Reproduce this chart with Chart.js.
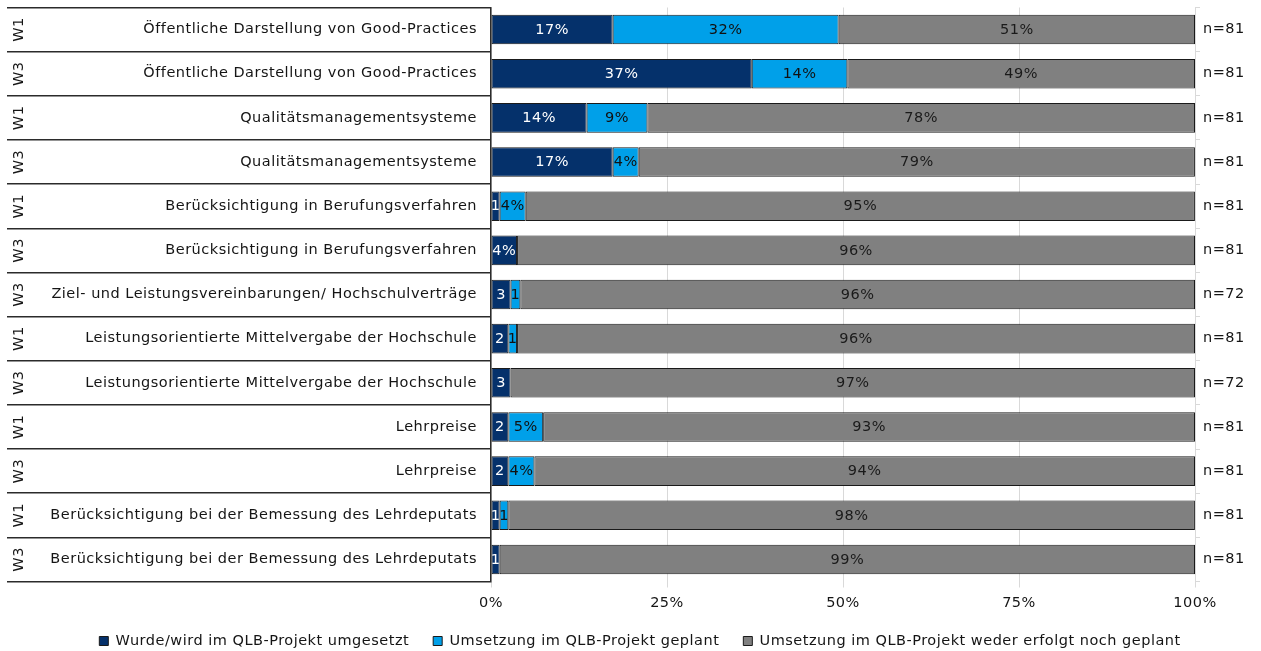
<!DOCTYPE html>
<html>
<head>
<meta charset="utf-8">
<script src="https://cdn.jsdelivr.net/npm/chart.js@4/dist/chart.umd.min.js"></script>
<style>
  html, body { margin: 0; padding: 0; background: #fff; }
  #wrap { position: relative; width: 1261px; height: 651px; }
</style>
</head>
<body>
<div id="wrap"><canvas id="c"></canvas></div>
<script>
// ---- data ----
const waves = ["W1", "W3", "W1", "W3", "W1", "W3", "W3", "W1", "W3", "W1", "W3", "W1", "W3"];
const categories = [
  "Öffentliche Darstellung von Good-Practices",
  "Öffentliche Darstellung von Good-Practices",
  "Qualitätsmanagementsysteme",
  "Qualitätsmanagementsysteme",
  "Berücksichtigung in Berufungsverfahren",
  "Berücksichtigung in Berufungsverfahren",
  "Ziel- und Leistungsvereinbarungen/ Hochschulverträge",
  "Leistungsorientierte Mittelvergabe der Hochschule",
  "Leistungsorientierte Mittelvergabe der Hochschule",
  "Lehrpreise",
  "Lehrpreise",
  "Berücksichtigung bei der Bemessung des Lehrdeputats",
  "Berücksichtigung bei der Bemessung des Lehrdeputats"
];
const nLabels = ["n=81", "n=81", "n=81", "n=81", "n=81", "n=81", "n=72", "n=81", "n=72", "n=81", "n=81", "n=81", "n=81"];
const seriesNames = [
  "Wurde/wird im QLB-Projekt umgesetzt",
  "Umsetzung im QLB-Projekt geplant",
  "Umsetzung im QLB-Projekt weder erfolgt noch geplant"
];
const umgesetzt = [17.28, 37.04, 13.58, 17.28, 1.23, 3.70, 2.78, 2.47, 2.78, 2.47, 2.47, 1.23, 1.23];
const geplant   = [32.10, 13.58, 8.64, 3.70, 3.70, 0, 1.39, 1.23, 0, 4.94, 3.70, 1.23, 0];
const weder     = [50.62, 49.38, 77.78, 79.01, 95.06, 96.30, 95.83, 96.30, 97.22, 92.59, 93.83, 97.53, 98.77];
const xTicks = [0, 25, 50, 75, 100];

// ---- style ----
const FONT = "DejaVu Sans";
const FS = 14.5;
const TXT = "#151515";
const colors = ["#05316B", "#00A0E9", "#808080"];
const labelColors = ["#ffffff", "#111111", "#1a1a1a"];
const rowLabels = categories.map((c, i) => waves[i] + " " + c);

const spacingPlugin = {
  id: "spacing",
  beforeUpdate(chart) { chart.ctx.letterSpacing = "0.5px"; },
  beforeDraw(chart) { chart.ctx.letterSpacing = "0.5px"; }
};

const leftPanel = {
  id: "leftPanel",
  afterDraw(chart) {
    const ctx = chart.ctx;
    const ys = chart.scales.y;
    ctx.save();
    ctx.letterSpacing = "0.5px";
    ctx.font = FS + "px '" + FONT + "'";
    ctx.fillStyle = TXT;
    ctx.textBaseline = "middle";
    for (let i = 0; i < categories.length; i++) {
      const y = ys.getPixelForTick(i);
      ctx.textAlign = "right";
      ctx.fillText(categories[i], 477, y);
      ctx.save();
      ctx.translate(19, y);
      ctx.rotate(-Math.PI / 2);
      ctx.textAlign = "center";
      ctx.fillText(waves[i], 0, 0);
      ctx.restore();
    }
    ctx.restore();
  }
};

const dataLabels = {
  id: "dataLabels",
  afterDatasetsDraw(chart) {
    const ctx = chart.ctx;
    ctx.save();
    ctx.letterSpacing = "0.5px";
    ctx.font = FS + "px '" + FONT + "'";
    ctx.textAlign = "center";
    ctx.textBaseline = "middle";
    chart.data.datasets.forEach((ds, di) => {
      const meta = chart.getDatasetMeta(di);
      meta.data.forEach((el, i) => {
        const v = ds.data[i];
        if (!v) return;
        const w = Math.abs(el.x - el.base);
        const r = Math.round(v);
        let t = r + "%";
        if (ctx.measureText(t).width > w + 1) t = String(r);
        ctx.fillStyle = labelColors[di];
        ctx.fillText(t, (el.x + el.base) / 2, el.y + 0.5);
      });
    });
    ctx.restore();
  }
};

const ds = (label, data, i) => ({
  label, data,
  backgroundColor: colors[i],
  borderColor: "#1a1a1a",
  borderWidth: 1,
  borderSkipped: false,
  categoryPercentage: 1,
  barPercentage: 0.67
});

new Chart(document.getElementById("c"), {
  type: "bar",
  data: {
    labels: rowLabels,
    datasets: [
      ds(seriesNames[0], umgesetzt, 0),
      ds(seriesNames[1], geplant, 1),
      ds(seriesNames[2], weder, 2)
    ]
  },
  options: {
    indexAxis: "y",
    responsive: true,
    maintainAspectRatio: false,
    animation: false,
    layout: { padding: { left: 19, right: 0, top: 7.5, bottom: -7.25 } },
    plugins: {
      legend: {
        position: "bottom",
        labels: {
          boxWidth: 9, boxHeight: 9, padding: 24,
          color: TXT,
          font: { family: FONT, size: FS }
        }
      },
      tooltip: { enabled: false }
    },
    scales: {
      x: {
        stacked: true,
        min: 0, max: 100,
        afterBuildTicks(s) { s.ticks = xTicks.map(v => ({ value: v })); },
        ticks: {
          callback: v => v + "%",
          color: TXT, padding: 7,
          font: { family: FONT, size: FS }
        },
        grid: { color: "#d9d9d9", lineWidth: 1, tickLength: 6, drawTicks: true },
        border: { display: false },
        afterFit(s) { s.height = 28.25; }
      },
      y: {
        stacked: true,
        offset: true,
        ticks: { display: false },
        grid: { offset: true, drawOnChartArea: false, drawTicks: true, tickLength: 484, color: "#2b2b2b", lineWidth: 1.5 },
        border: { color: "#2b2b2b", width: 1.5 },
        afterFit(s) { s.width = 491 - 19; s.paddingTop = 0; s.paddingBottom = 0; }
      },
      y2: {
        type: "category",
        position: "right",
        labels: nLabels,
        offset: true,
        ticks: { color: TXT, padding: 3, font: { family: FONT, size: FS }, autoSkip: false },
        grid: { offset: true, drawOnChartArea: false, tickLength: 5, color: "#d9d9d9" },
        border: { color: "#d9d9d9" },
        afterFit(s) { s.width = 1261 - 1195; s.paddingTop = 0; s.paddingBottom = 0; }
      }
    }
  },
  plugins: [spacingPlugin, leftPanel, dataLabels]
});
</script>
</body>
</html>
